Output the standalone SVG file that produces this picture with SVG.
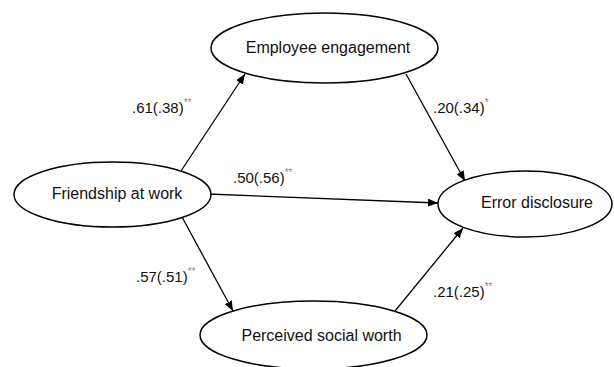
<svg xmlns="http://www.w3.org/2000/svg" width="614" height="367" viewBox="0 0 614 367">
<defs>
<style>
.node ellipse{fill:#fff;stroke:#000;stroke-width:1.5}
.node text{font-family:"Liberation Sans",Arial,sans-serif;font-size:16px;fill:#111;text-anchor:middle}
.edge line{stroke:#000;stroke-width:1.3}
.lbl{font-family:"Liberation Sans",Arial,sans-serif;font-size:15px;fill:#111}
.sig{font-size:10px;fill:#8a8a8a}
</style>
<marker id="arr" markerUnits="userSpaceOnUse" markerWidth="10" markerHeight="8" refX="10" refY="4" orient="auto">
<path d="M0,0 L10,4 L0,8 z" fill="#000"/>
</marker>
</defs>
<rect width="614" height="367" fill="#fff"/>
<g id="connectors" class="edge">
<line x1="181" y1="171" x2="245" y2="74" marker-end="url(#arr)"/>
<line x1="406" y1="74" x2="465" y2="181" marker-end="url(#arr)"/>
<line x1="208" y1="194" x2="438" y2="203" marker-end="url(#arr)"/>
<line x1="182" y1="217" x2="233" y2="311" marker-end="url(#arr)"/>
<line x1="395" y1="311" x2="463" y2="228" marker-end="url(#arr)"/>
</g>
<g id="node-employee" class="node">
<ellipse cx="324.5" cy="48" rx="113.5" ry="35"/>
<text x="328" y="53">Employee engagement</text>
</g>
<g id="node-friendship" class="node">
<ellipse cx="112.5" cy="194.5" rx="98.5" ry="32.5"/>
<text x="117" y="199">Friendship at work</text>
</g>
<g id="node-error" class="node">
<ellipse cx="525" cy="204" rx="87" ry="33"/>
<text x="537" y="208">Error disclosure</text>
</g>
<g id="node-perceived" class="node">
<ellipse cx="313.5" cy="335" rx="113.5" ry="34"/>
<text x="321.5" y="341">Perceived social worth</text>
</g>
<g id="labels">
<text class="lbl" x="132" y="113">.61(.38)<tspan class="sig" dy="-7">**</tspan></text>
<text class="lbl" x="433" y="113">.20(.34)<tspan class="sig" dy="-7">*</tspan></text>
<text class="lbl" x="233" y="183">.50(.56)<tspan class="sig" dy="-7">**</tspan></text>
<text class="lbl" x="136" y="282">.57(.51)<tspan class="sig" dy="-7">**</tspan></text>
<text class="lbl" x="433" y="297">.21(.25)<tspan class="sig" dy="-7">**</tspan></text>
</g>
</svg>
